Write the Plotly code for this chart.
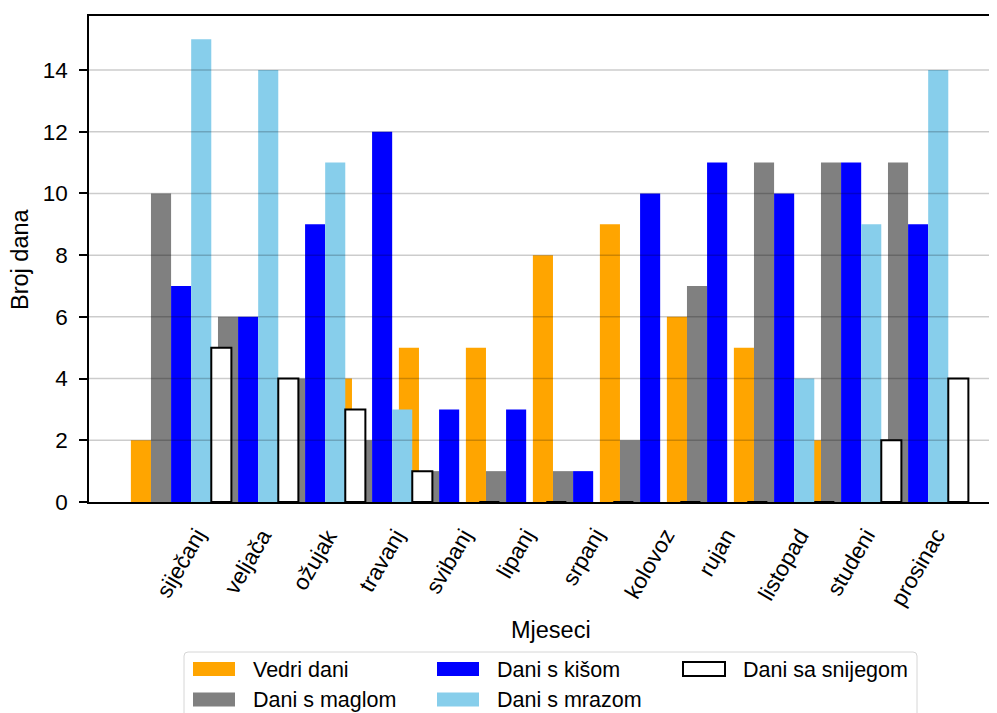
import plotly.graph_objects as go

# ---------------- data ----------------
months = ["siječanj", "veljača", "ožujak", "travanj", "svibanj", "lipanj",
          "srpanj", "kolovoz", "rujan", "listopad", "studeni", "prosinac"]
vedri_dani = [2, 3, 3, 4, 5, 5, 8, 9, 6, 5, 2, 2]
dani_magla = [10, 6, 4, 2, 1, 1, 1, 2, 7, 11, 11, 11]
dani_kisa = [7, 6, 9, 12, 3, 3, 1, 10, 11, 10, 11, 9]
dani_mraz = [15, 14, 11, 3, 0, 0, 0, 0, 0, 4, 9, 14]
dani_snijeg = [5, 4, 3, 1, 0, 0, 0, 0, 0, 0, 2, 4]
series_names = ["Vedri dani", "Dani s maglom", "Dani s kišom", "Dani s mrazom", "Dani sa snijegom"]
y_ticks = [0, 2, 4, 6, 8, 10, 12, 14]
x_title = "Mjeseci"
y_title = "Broj dana"

series_values = [vedri_dani, dani_magla, dani_kisa, dani_mraz, dani_snijeg]
colors = ["#FFA500", "#808080", "#0000FF", "#87CEEB", "#FFFFFF"]

# ---------------- geometry ----------------
# the page body has an 8px margin, so the figure is drawn 8px smaller and
# all layout positions below are given in window pixels and shifted.
OFF = 8
W, H = 997 - OFF, 713 - OFF
PLOT_LEFT, PLOT_TOP, PLOT_BOTTOM = 89, 16, 502   # window pixels
L = PLOT_LEFT - OFF
T = PLOT_TOP - OFF
B = H - (PLOT_BOTTOM - OFF)
R = 0
PW = W - L - R
PH = H - T - B
UNIT_PX = 67.0
X0 = -1.375
FONT = "Liberation Sans, Arial, Helvetica, sans-serif"
TICK_FS = 22.5
TITLE_FS = 23.5
LEG_FS = 21.5


def px_x(px):
    return (px - OFF - L) / PW


def px_y(py):
    return (H - B - (py - OFF)) / PH


BAR_W = 0.3
fig = go.Figure()
for k, (name, vals, col) in enumerate(zip(series_names, series_values, colors)):
    edge = k == 4
    fig.add_trace(go.Bar(
        x=months, y=vals, name=name, width=BAR_W,
        offset=-2.5 * BAR_W + k * BAR_W,
        marker=dict(color=col,
                    line=dict(color="black" if edge else col, width=2 if edge else 0)),
        showlegend=False,
    ))

shapes = []
# grid lines drawn above bars (as in reference)
for v in y_ticks[1:]:
    shapes.append(dict(type="line", xref="paper", yref="y", x0=0, x1=1, y0=v, y1=v,
                       layer="above", line=dict(color="rgba(0,0,0,0.2)", width=1.5)))

annotations = []
# rotated month labels
for m in months:
    annotations.append(dict(x=m, xref="x", y=px_y(522), yref="paper", text=m,
                            textangle=-60, xanchor="center", yanchor="top",
                            showarrow=False, font=dict(size=TICK_FS, family=FONT, color="black")))
# axis titles
annotations.append(dict(x=px_x(551), xref="paper", y=px_y(630), yref="paper", text=x_title,
                        xanchor="center", yanchor="middle", showarrow=False,
                        font=dict(size=TITLE_FS, family=FONT, color="black")))
annotations.append(dict(x=px_x(20), xref="paper", y=px_y(259), yref="paper", text=y_title,
                        textangle=-90, xanchor="center", yanchor="middle", showarrow=False,
                        font=dict(size=TITLE_FS, family=FONT, color="black")))

# ---------------- legend (matplotlib-like, 3 columns) ----------------
lx0, lx1, ly0, ly1, rad = 184, 917, 652, 740, 4
path = (f"M {px_x(lx0)},{px_y(ly1)} L {px_x(lx0)},{px_y(ly0 + rad)} "
        f"Q {px_x(lx0)},{px_y(ly0)} {px_x(lx0 + rad)},{px_y(ly0)} "
        f"L {px_x(lx1 - rad)},{px_y(ly0)} "
        f"Q {px_x(lx1)},{px_y(ly0)} {px_x(lx1)},{px_y(ly0 + rad)} "
        f"L {px_x(lx1)},{px_y(ly1)}")
shapes.append(dict(type="path", xref="paper", yref="paper", path=path,
                   line=dict(color="#d6d6d6", width=1), layer="above"))

col_x = [193, 437, 683]
row_y = [662, 692.5]
slots = [(0, 0), (0, 1), (1, 0), (1, 1), (2, 0)]
for k, (c, r) in enumerate(slots):
    sx0 = col_x[c]
    sy0 = row_y[r]
    edge = k == 4
    shapes.append(dict(type="rect", xref="paper", yref="paper",
                       x0=px_x(sx0), x1=px_x(sx0 + 42), y0=px_y(sy0 + 14), y1=px_y(sy0),
                       fillcolor=colors[k], layer="above",
                       line=dict(color="black" if edge else colors[k], width=2 if edge else 0)))
    annotations.append(dict(x=px_x(sx0 + 58), xref="paper", y=px_y(sy0 + 7.5), yref="paper",
                            text=series_names[k], xanchor="left", yanchor="middle",
                            showarrow=False, font=dict(size=LEG_FS, family=FONT, color="black")))

fig.update_layout(
    width=W, height=H,
    margin=dict(l=L, r=R, t=T, b=B, pad=0),
    paper_bgcolor="white", plot_bgcolor="white",
    barmode="overlay",
    font=dict(family=FONT, size=TICK_FS, color="black"),
    xaxis=dict(type="category", range=[X0, X0 + PW / UNIT_PX], showticklabels=False,
               ticks="", showgrid=False, zeroline=False, showline=True,
               linecolor="black", linewidth=1.5, mirror=True),
    yaxis=dict(range=[0, 15.75], tickvals=y_ticks, ticks="outside", ticklen=8,
               tickwidth=1.5, tickcolor="black", showline=True, linecolor="black",
               linewidth=1.5, showgrid=False, zeroline=False, ticklabelstandoff=7,
               tickfont=dict(size=TICK_FS, family=FONT, color="black")),
    shapes=shapes,
    annotations=annotations,
)

fig.write_html("out.html")
